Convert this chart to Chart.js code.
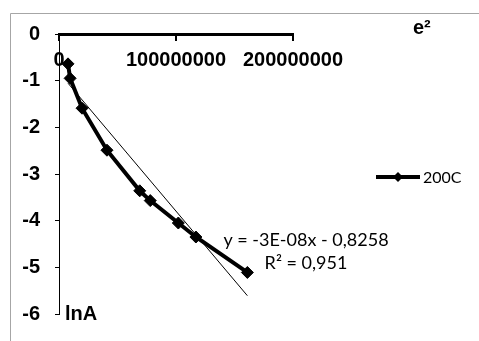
<!DOCTYPE html>
<html><head><meta charset="utf-8">
<script src="https://cdn.jsdelivr.net/npm/chart.js@4/dist/chart.umd.min.js"></script>
<style>html,body{margin:0;padding:0;background:#fff;} canvas{display:block;}</style>
</head><body>
<canvas id="c" width="479" height="341"></canvas>
<script>
const seriesName = '200C';
const xValues = [7.7e6, 9.5e6, 19.7e6, 41e6, 69e6, 78e6, 102e6, 117e6, 161e6];
const yValues = [-0.64, -0.95, -1.59, -2.49, -3.36, -3.57, -4.05, -4.35, -5.11];
const xTickValues = [0, 100000000, 200000000];
const xTickLabels = ['0', '100000000', '200000000'];
const yTickValues = [0, -1, -2, -3, -4, -5, -6];
const yTickLabels = ['0', '-1', '-2', '-3', '-4', '-5', '-6'];
const trendSlope = -2.97e-8;
const trendIntercept = -0.8258;
const equationLines = ['y = -3E-08x - 0,8258', 'R² = 0,951'];
const xAxisTitle = 'e²';
const yAxisTitle = 'lnA';

const seriesData = xValues.map((x, i) => ({x: x, y: yValues[i]}));
const tMin = Math.min(...xValues), tMax = Math.max(...xValues);
const trendData = [tMin, tMax].map(x => ({x: x, y: trendSlope * x + trendIntercept}));

const boldFont = {family: 'Liberation Sans, Arial, sans-serif', weight: 'bold', size: 20};

const decor = {
  id: 'decor',
  beforeDraw(chart) {
    const ctx = chart.ctx;
    ctx.save();
    ctx.strokeStyle = '#a6a6a6';
    ctx.lineWidth = 1;
    ctx.beginPath();
    ctx.moveTo(10.5, chart.height);
    ctx.lineTo(10.5, 13.5);
    ctx.lineTo(chart.width, 13.5);
    ctx.stroke();
    ctx.restore();
  },
  afterDraw(chart) {
    const ctx = chart.ctx, a = chart.chartArea;
    ctx.save();
    ctx.fillStyle = '#000';
    ctx.font = 'bold 20px "Liberation Sans", Arial, sans-serif';
    ctx.textBaseline = 'middle';
    ctx.textAlign = 'left';
    ctx.fillText(xAxisTitle, a.right + 120, 28);
    ctx.fillText(yAxisTitle, a.left + 6, a.bottom);
    // legend
    const lx = a.right + 83, ly = (a.top + a.bottom) / 2 + 3;
    ctx.strokeStyle = '#000';
    ctx.lineWidth = 4;
    ctx.beginPath();
    ctx.moveTo(lx, ly); ctx.lineTo(lx + 44, ly);
    ctx.stroke();
    const cx = lx + 22, r = 5;
    ctx.beginPath();
    ctx.moveTo(cx, ly - r); ctx.lineTo(cx + r, ly); ctx.lineTo(cx, ly + r); ctx.lineTo(cx - r, ly);
    ctx.closePath(); ctx.fill();
    ctx.font = '16px Lato, "Open Sans", sans-serif';
    ctx.fillText(seriesName, lx + 47, ly + 1);
    // trendline label
    ctx.font = '18px Lato, "Open Sans", sans-serif';
    ctx.textAlign = 'center';
    ctx.fillText(equationLines[0], 306, 240);
    ctx.fillText(equationLines[1], 306, 263);
    ctx.restore();
  }
};

new Chart(document.getElementById('c'), {
  type: 'scatter',
  data: {
    datasets: [
      {
        label: seriesName,
        data: seriesData,
        showLine: true,
        borderColor: '#000',
        borderWidth: 4,
        pointStyle: 'rectRot',
        pointRadius: 6,
        pointBorderWidth: 1,
        pointBackgroundColor: '#000',
        pointBorderColor: '#000',
        tension: 0
      },
      {
        label: 'trend',
        data: trendData,
        showLine: true,
        borderColor: '#000',
        borderWidth: 1,
        pointRadius: 0
      }
    ]
  },
  options: {
    responsive: false,
    animation: false,
    devicePixelRatio: 1,
    layout: {padding: {top: 0, left: 0, right: 186, bottom: 16}},
    plugins: {legend: {display: false}, tooltip: {enabled: false}},
    scales: {
      x: {
        type: 'linear',
        position: 'top',
        min: 0, max: 200000000,
        afterBuildTicks: s => { s.ticks = xTickValues.map(v => ({value: v})); },
        afterFit: s => { s.height = 34; },
        ticks: {
          callback: (v, i) => xTickLabels[i],
          font: boldFont, color: '#000', padding: 14, mirror: true,
          maxRotation: 0, autoSkip: false
        },
        grid: {display: true, drawOnChartArea: false, drawTicks: true, tickLength: -7, color: '#000', lineWidth: 2},
        border: {display: true, color: '#000', width: 3}
      },
      y: {
        type: 'linear',
        position: 'left',
        min: -6, max: 0,
        afterBuildTicks: s => { s.ticks = yTickValues.map(v => ({value: v})); },
        afterFit: s => { s.width = 59; },
        ticks: {
          callback: (v, i) => yTickLabels[i],
          font: boldFont, color: '#000', padding: 15, autoSkip: false
        },
        grid: {display: true, drawOnChartArea: false, drawTicks: true, tickLength: 4, color: '#000', lineWidth: 1},
        border: {display: true, color: '#000', width: 1}
      }
    }
  },
  plugins: [decor]
});
</script>
</body></html>
